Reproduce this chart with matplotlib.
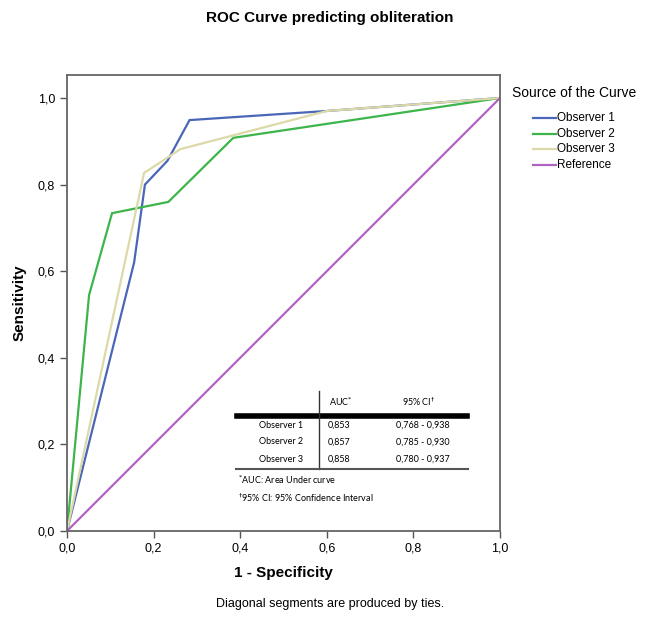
import matplotlib
matplotlib.use("Agg")
import matplotlib.pyplot as plt
from matplotlib.lines import Line2D

plt.rcParams['font.family'] = ['Liberation Sans', 'DejaVu Sans']

# --- data ---
obs1_x = [0.0, 0.155, 0.18, 0.232, 0.283, 0.60, 1.0]
obs1_y = [0.0, 0.62, 0.80, 0.855, 0.949, 0.97, 1.0]
obs2_x = [0.0, 0.051, 0.104, 0.234, 0.384, 1.0]
obs2_y = [0.0, 0.545, 0.734, 0.760, 0.908, 1.0]
obs3_x = [0.0, 0.178, 0.262, 0.60, 1.0]
obs3_y = [0.0, 0.827, 0.882, 0.97, 1.0]
ref_x = [0.0, 1.0]
ref_y = [0.0, 1.0]

series_names = ["Observer 1", "Observer 2", "Observer 3", "Reference"]
series_colors = ["#4a66b8", "#3db54a", "#dcd9a8", "#b062c0"]

table_rows = ["Observer 1", "Observer 2", "Observer 3"]
table_auc = ["0,853", "0,857", "0,858"]
table_ci = ["0,768 - 0,938", "0,785 - 0,930", "0,780 - 0,937"]

ticks = [0.0, 0.2, 0.4, 0.6, 0.8, 1.0]
tick_labels = ["0,0", "0,2", "0,4", "0,6", "0,8", "1,0"]

W, H = 649, 640
fig = plt.figure(figsize=(W / 100, H / 100), dpi=100)
ax = fig.add_axes([67 / W, 1 - 531 / H, 433 / W, 456 / H])

for xs, ys, c in zip([obs1_x, obs2_x, obs3_x, ref_x], [obs1_y, obs2_y, obs3_y, ref_y], series_colors):
    ax.plot(xs, ys, color=c, linewidth=1.6, solid_joinstyle='miter')

ax.set_xlim(0, 1.0)
ax.set_ylim(0, 1.0 + 23 / 433)
ax.set_xticks(ticks)
ax.set_xticklabels(tick_labels, fontsize=9)
ax.set_yticks(ticks)
ax.set_yticklabels(tick_labels, fontsize=9)
ax.tick_params(direction='out', length=5, color='#555555', width=1)
for s in ax.spines.values():
    s.set_color('#666666')
    s.set_linewidth(1.3)

ax.set_xlabel("1 - Specificity", fontsize=11, fontweight='bold', labelpad=8)
ax.set_ylabel("Sensitivity", fontsize=11, fontweight='bold', labelpad=8)

fig.text(330 / W, 1 - 18 / H, "ROC Curve predicting obliteration", ha='center', va='center',
         fontsize=11, fontweight='bold')
fig.text(330 / W, 1 - 604 / H, "Diagonal segments are produced by ties.", ha='center', va='center',
         fontsize=9)


def fx(px):
    return px / W


def fy(py):
    return 1 - py / H


# legend outside right, laid out by hand
fig.text(fx(512), fy(93), "Source of the Curve", ha='left', va='center', fontsize=10)
for i, (name, c) in enumerate(zip(series_names, series_colors)):
    y = fy(118 + 15.7 * i)
    fig.add_artist(Line2D([fx(533), fx(556)], [y, y], color=c, linewidth=1.6))
    fig.text(fx(557), y, name, ha='left', va='center', fontsize=8.5)

# inset table drawn in figure pixels
tfont = ['Lato', 'DejaVu Sans']
fig.add_artist(Line2D([fx(237), fx(467)], [fy(416), fy(416)], color='black', linewidth=4))
fig.add_artist(Line2D([fx(319), fx(319)], [fy(391), fy(469)], color='#333333', linewidth=1))
fig.add_artist(Line2D([fx(236), fx(468)], [fy(469), fy(469)], color='#555555', linewidth=1.5))
fig.text(fx(341), fy(402), "AUC$^{*}$", ha='center', va='center', fontsize=6.5, family=tfont)
fig.text(fx(419), fy(402), "95% CI$^{\u2020}$", ha='center', va='center', fontsize=6.5, family=tfont)
for i, (r, a, c) in enumerate(zip(table_rows, table_auc, table_ci)):
    y = fy(425 + 17 * i)
    fig.text(fx(303), y, r, ha='right', va='center', fontsize=6.5, family=tfont)
    fig.text(fx(339), y, a, ha='center', va='center', fontsize=6.5, family=tfont)
    fig.text(fx(423), y, c, ha='center', va='center', fontsize=6.5, family=tfont)
fig.text(fx(238), fy(480), "$^{*}$AUC: Area Under curve", ha='left', va='center', fontsize=6.5, family=tfont)
fig.text(fx(238), fy(498), "$^{\u2020}$95% CI: 95% Confidence Interval", ha='left', va='center',
         fontsize=6.5, family=tfont)

fig.savefig("out.png", dpi=100, facecolor='white')
